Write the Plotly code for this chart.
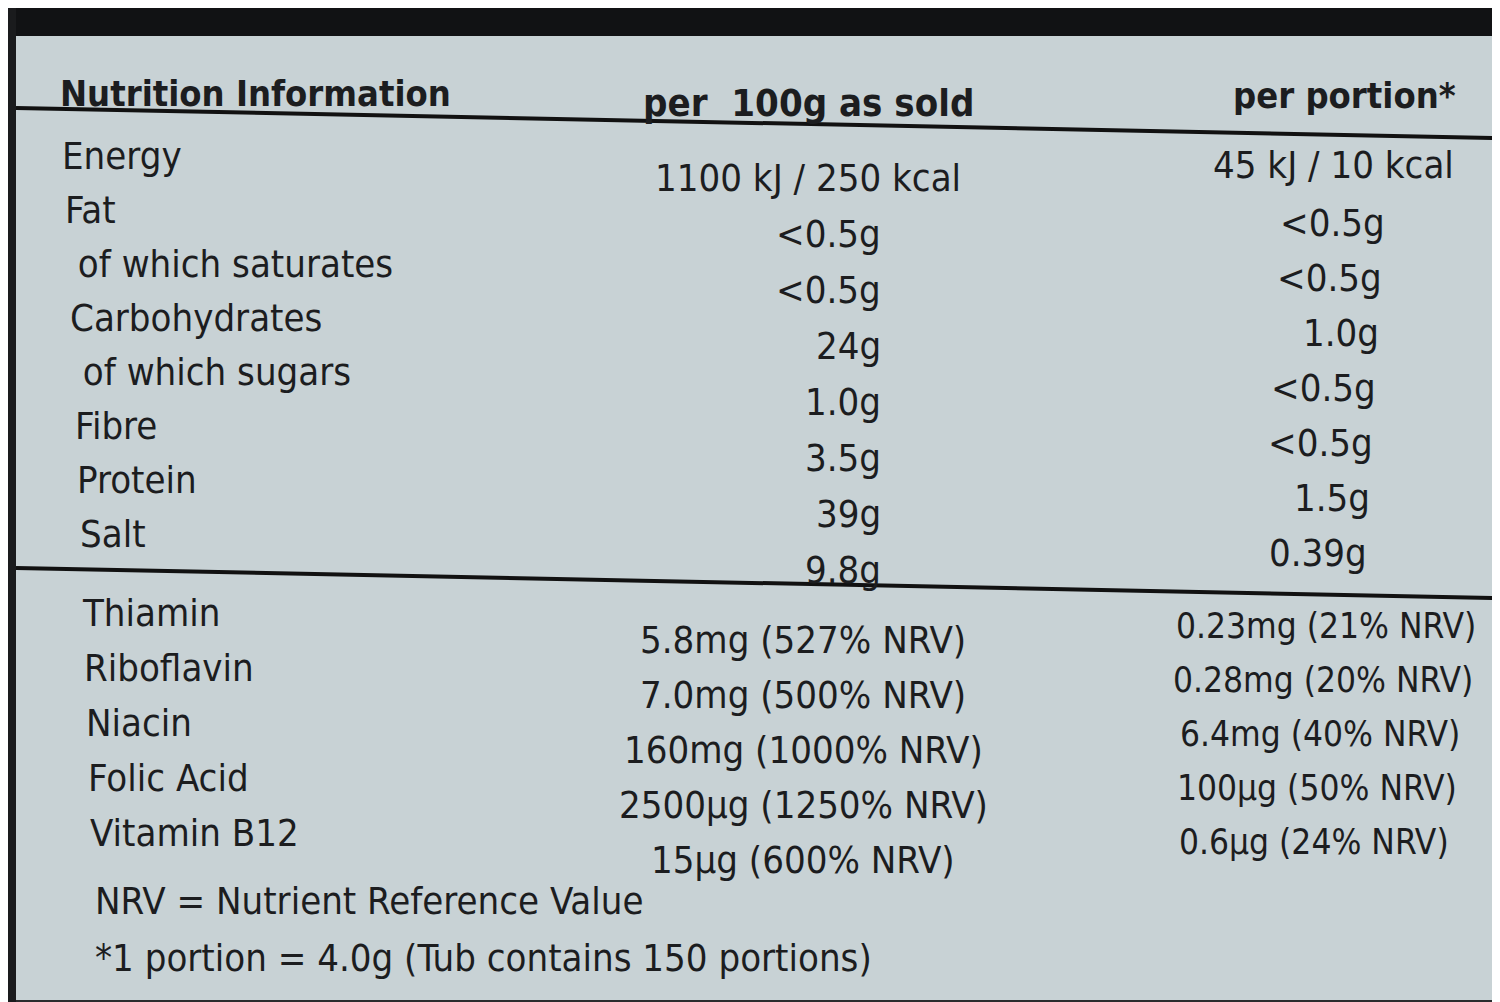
import plotly.graph_objects as go

headers = ["Nutrition Information", "per  100g as sold", "per portion*"]
nutrients = ["Energy", "Fat", " of which saturates", "Carbohydrates", " of which sugars", "Fibre", "Protein", "Salt"]
per100 = ["1100 kJ / 250 kcal", "<0.5g", "<0.5g", "24g", "1.0g", "3.5g", "39g", "9.8g"]
perportion = ["45 kJ / 10 kcal", "<0.5g", "<0.5g", "1.0g", "<0.5g", "<0.5g", "1.5g", "0.39g"]
vitamins = ["Thiamin", "Riboflavin", "Niacin", "Folic Acid", "Vitamin B12"]
vit100 = ["5.8mg (527% NRV)", "7.0mg (500% NRV)", "160mg (1000% NRV)", "2500µg (1250% NRV)", "15µg (600% NRV)"]
vitportion = ["0.23mg (21% NRV)", "0.28mg (20% NRV)", "6.4mg (40% NRV)", "100µg (50% NRV)", "0.6µg (24% NRV)"]
footnotes = ["NRV = Nutrient Reference Value", "*1 portion = 4.0g (Tub contains 150 portions)"]

FONT = "DejaVu Sans Condensed"
INK = "#1c1d1f"
W, H = 1500, 1002
fig = go.Figure()

def add(x, y, text, anchor, size=38, bold=False):
    fig.add_annotation(x=x / W, y=1 - y / H, xref="paper", yref="paper",
                       text=("<b>%s</b>" % text) if bold else text,
                       xanchor=anchor, yanchor="middle", showarrow=False,
                       font=dict(family=FONT, size=size, color=INK))

add(50, 85, headers[0], "left", 36, True)
add(800, 95, headers[1], "center", 38, True)
add(1450, 88, headers[2], "right", 36, True)

for i, (n, a, b) in enumerate(zip(nutrients, per100, perportion)):
    add(52 + i * 2.5, 148 + i * 54, n, "left")
    if i == 0:
        add(800, 170, a, "center")
        add(1448, 157, b, "right")
    else:
        add(875, 170 + i * 56, a, "right")
        add(1382 - i * 3, 160 + i * 55, b, "right")

for i, (n, a, b) in enumerate(zip(vitamins, vit100, vitportion)):
    add(72 + i * 2, 605 + i * 55, n, "left")
    add(795, 632 + i * 55, a, "center")
    add(1318 - i * 3, 618 + i * 54, b, "center", 35)

add(85, 893, footnotes[0], "left")
add(85, 950, footnotes[1], "left")

def px(x0, x1, y0, y1, **kw):
    return dict(xref="paper", yref="paper", x0=x0 / W, x1=x1 / W, y0=1 - y0 / H, y1=1 - y1 / H, **kw)

shapes = [
    px(0, 1500, 0, 28, type="rect", fillcolor="#111214", line_width=0, layer="below"),
    px(0, 1500, 992, 1002, type="rect", fillcolor="#2a2c2e", line_width=0, layer="below"),
    px(0, 8, 0, 1002, type="rect", fillcolor="#1a1b1d", line_width=0, layer="below"),
    px(1490, 1500, 0, 1002, type="rect", fillcolor="#1a1b1d", line_width=0, layer="below"),
    px(8, 1490, 100, 130, type="line", line=dict(color="#111", width=4)),
    px(8, 1490, 560, 590, type="line", line=dict(color="#111", width=4)),
]
fig.update_layout(width=W, height=H, margin=dict(l=0, r=0, t=0, b=0, pad=0),
                  paper_bgcolor="#c8d2d5", plot_bgcolor="#c8d2d5", shapes=shapes,
                  xaxis=dict(visible=False), yaxis=dict(visible=False), showlegend=False)
fig.write_html("out.html")
